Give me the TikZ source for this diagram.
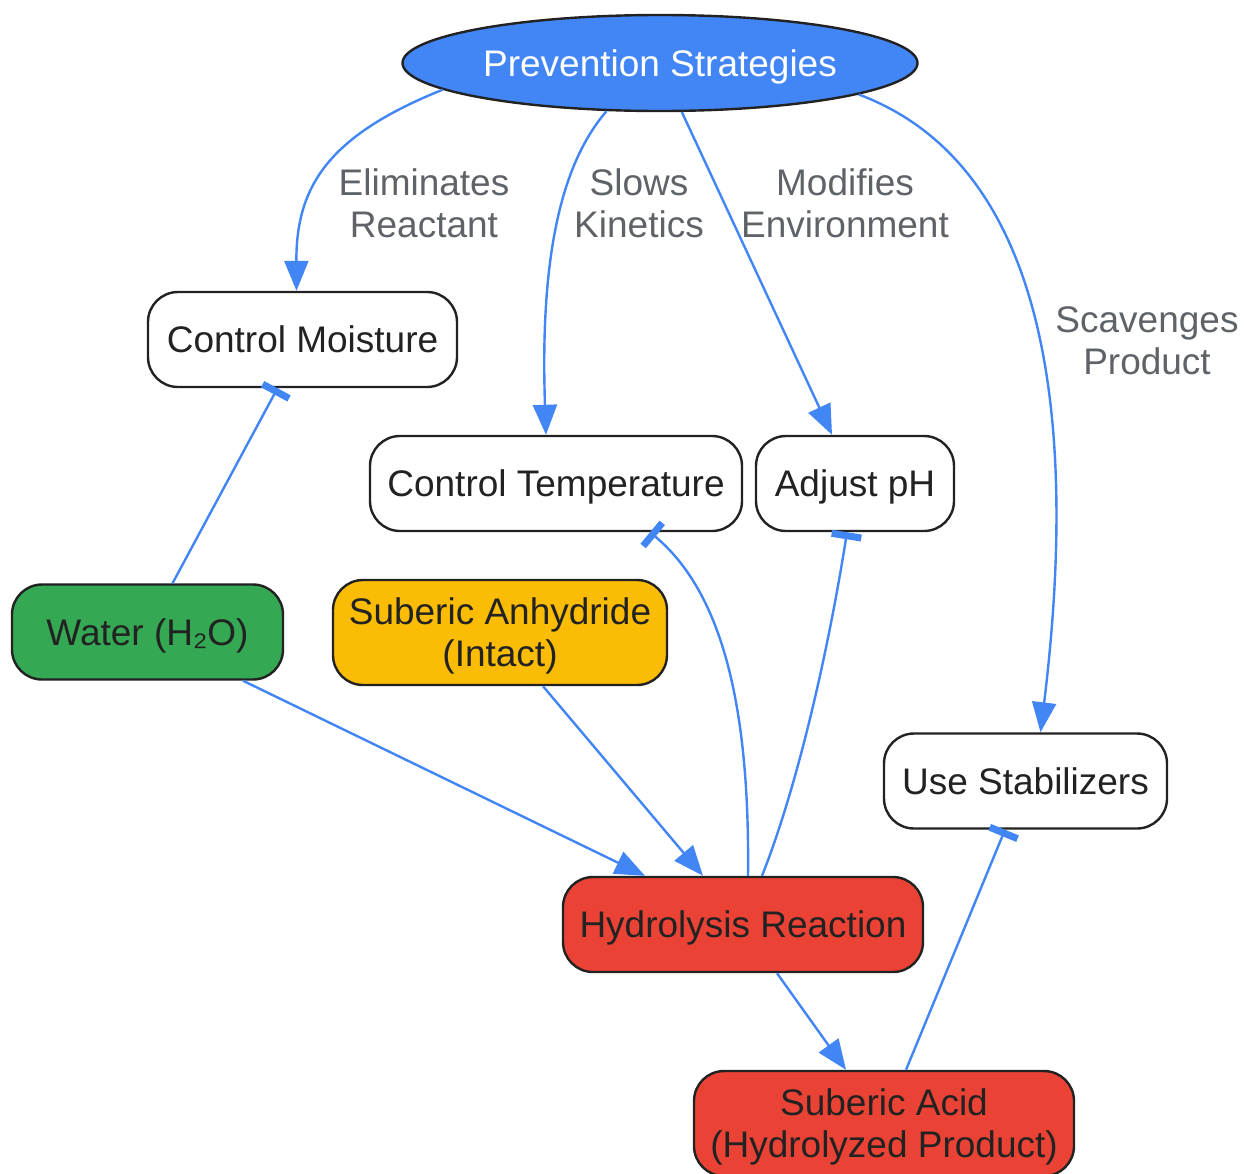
\documentclass[tikz,border=0pt]{standalone}
\usepackage{fontspec}
\setmainfont{Liberation Sans}
\usepackage{xcolor}
\usetikzlibrary{arrows.meta,shapes.geometric,positioning}
\definecolor{gblue}{HTML}{4285F4}
\definecolor{ggreen}{HTML}{34A853}
\definecolor{gyellow}{HTML}{FBBC05}
\definecolor{gred}{HTML}{EA4335}
\definecolor{outline}{HTML}{222222}
\definecolor{lbl}{HTML}{5F6368}
\tikzset{%
	state/.style    = {draw=outline, line width=2.4pt, rectangle, rounded corners=30pt, minimum height=95pt, align=center, text=outline, fill=white, text depth=0pt},
	strategy/.style = {draw=outline, line width=2.4pt, ellipse, fill=gblue, text=white, minimum width=515pt, minimum height=96pt, text depth=0pt},
	edgelabel/.style= {align=center, text=lbl},
	flow/.style     = {line width=2.4pt, gblue, -{Triangle[length=30pt,width=24pt]}}, % causes
	inhibit/.style  = {line width=2.4pt, gblue, {Bar[width=30pt,line width=7pt]}-}, % blocks
}

\begin{document}
\begin{tikzpicture}[x=1pt,y=-1pt,font=\fontsize{37}{42}\selectfont]
	\useasboundingbox (0,0) rectangle (1244,1173);
	\node [strategy] (prev) at (660,63) {Prevention Strategies};
	\node [state,minimum width=309pt] (moist) at (302.5,339.5) {Control Moisture};
	\node [state,minimum width=372pt] (temp) at (556,483.5) {Control Temperature};
	\node [state,minimum width=198pt] (ph) at (855,483.5) {Adjust pH};
	\node [state,minimum width=271pt,fill=ggreen] (water) at (147.5,632) {Water (H₂O)};
	\node [state,minimum width=334pt,minimum height=105pt,fill=gyellow] (anhy) at (500,632.5) {Suberic Anhydride\\(Intact)};
	\node [state,minimum width=283pt] (stab) at (1025.5,781) {Use Stabilizers};
	\node [state,minimum width=360pt,fill=gred] (hyd) at (743,924.5) {Hydrolysis Reaction};
	\node [state,minimum width=380pt,minimum height=105pt,fill=gred] (acid) at (884,1123.5) {Suberic Acid\\(Hydrolyzed Product)};
	
	\draw [flow] (prev.187) .. controls (330,135) and (296,185) .. ([xshift=-6pt]moist.north);
	\draw [flow] (prev.222) .. controls (560,165) and (540,260) .. ([xshift=-10pt]temp.north);
	\draw [flow] (prev.294.6) -- ([xshift=-23pt]ph.north);
	\draw [flow] (prev.351) .. controls (1060,170) and (1075,450) .. ([xshift=15pt]stab.north);
	\node [edgelabel] (elim) at (424,203) {Eliminates\\Reactant};
	\node [edgelabel] (slow) at (639,203) {Slows\\Kinetics};
	\node [edgelabel] (modi) at (845,203) {Modifies\\Environment};
	\node [edgelabel] (scav) at (1147,341) {Scavenges\\Product};
	
	\draw [inhibit] ([xshift=-25pt]moist.south) -- ([xshift=25pt]water.north);
	\draw [inhibit] ([xshift=94pt]temp.south) .. controls (720,590) and (750,700) .. ([xshift=5pt]hyd.north);
	\draw [inhibit] ([xshift=-8pt]ph.south) .. controls (830,640) and (800,780) .. ([xshift=19pt]hyd.north);
	\draw [inhibit] ([xshift=-20.5pt]stab.south) -- ([xshift=22pt]acid.north);
	
	\draw [flow] ([xshift=95.5pt]water.south) -- ([xshift=-98pt]hyd.north);
	\draw [flow] ([xshift=43pt]anhy.south) -- ([xshift=-40pt]hyd.north);
	\draw [flow] ([xshift=34pt]hyd.south) -- ([xshift=-38pt]acid.north);
\end{tikzpicture}
\end{document}
